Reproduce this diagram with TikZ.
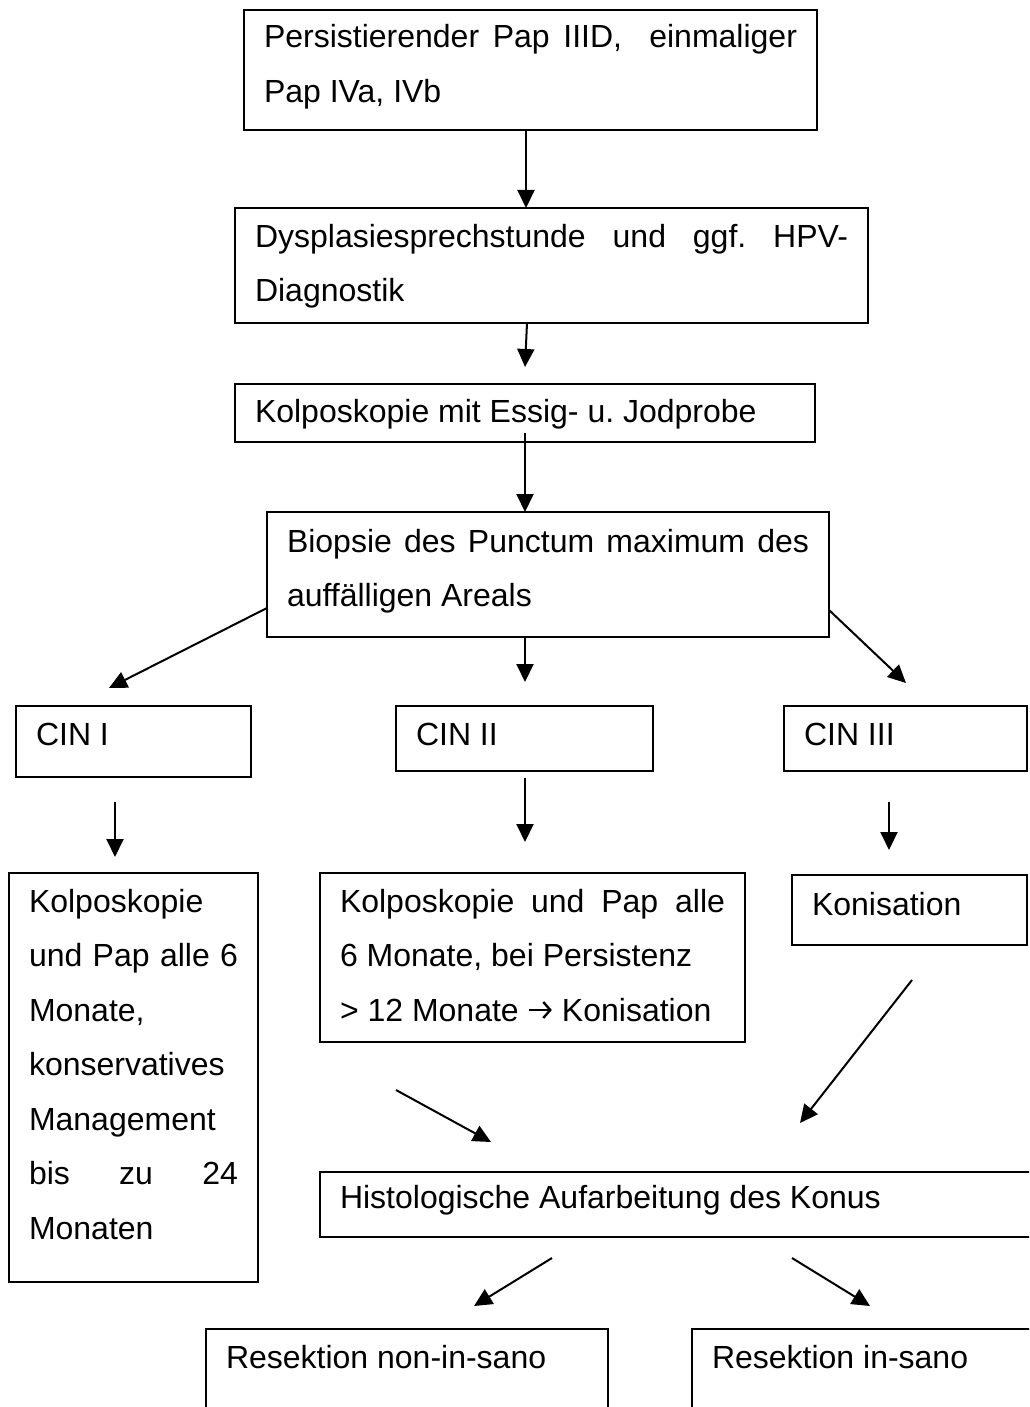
\documentclass[tikz,border=0pt]{standalone}
\usepackage{fontspec}
\setmainfont{Liberation Sans}
\usetikzlibrary{arrows.meta}
\frenchspacing
\newcommand\bxtext[4]{\parbox[c][#1pt][t]{#2pt}{\fontsize{32}{54.5}\selectfont\frenchspacing\hyphenpenalty=10000\rule{0pt}{#3pt}#4}}
\newcommand\wdarrow{\tikz[baseline=0pt]{\draw[line width=2.4pt,-{Straight Barb[length=7pt,width=16pt,line width=2.4pt]}] (0pt,11pt) -- (23pt,11pt);}}
\tikzset{
  bx/.style={draw, line width=1.8pt, anchor=north west, inner xsep=20pt, inner ysep=0pt, outer sep=0pt},
  arr/.style={line width=2pt, -{Triangle[length=18pt,width=17pt]}}
}
\newcommand\boxnode[7]{% name, x, y, W, H, baseline offset, text
  \pgfmathsetmacro\tw{#4-40}%
  \node[bx, minimum width=#4pt, minimum height=#5pt] (#1) at (#2,#3) {\bxtext{#5}{\tw}{#6}{#7}};}
\begin{document}
\begin{tikzpicture}[x=1pt,y=-1pt]
\useasboundingbox (0,0) rectangle (1029,1407);
\clip (0,0) rectangle (1029,1407);
\fill[white] (0,0) rectangle (1029,1407);

\boxnode{b1}{244}{10}{573}{120}{38}{Persistierender Pap IIID,~ einmaliger\linebreak Pap IVa, IVb}
\boxnode{b2}{235}{208}{633}{115}{39}{Dysplasiesprechstunde und ggf. HPV-\linebreak Diagnostik}
\boxnode{b3}{235}{384}{580}{58}{38}{Kolposkopie mit Essig- u. Jodprobe}
\boxnode{b4}{267}{512}{562}{125}{40}{Biopsie des Punctum maximum des\linebreak auff\"alligen Areals}
\boxnode{c1}{16}{706}{235}{71}{39}{CIN I}
\boxnode{c2}{396}{706}{257}{65}{39}{CIN II}
\boxnode{c3}{784}{706}{243}{65}{39}{CIN III}
\boxnode{k1}{9}{873}{249}{409}{39}{Kolposkopie\\ und Pap alle 6\linebreak Monate,\\ konservatives\\ Management\\ bis zu 24\linebreak Monaten}
\boxnode{k2}{320}{873}{425}{169}{39}{Kolposkopie und Pap alle\linebreak 6 Monate, bei Persistenz\\ > 12 Monate \wdarrow{} Konisation}
\boxnode{k3}{792}{875}{235}{70}{40}{Konisation}
\boxnode{h}{320}{1172}{730}{65}{36}{Histologische Aufarbeitung des Konus}
\boxnode{r1}{206}{1329}{402}{120}{39}{Resektion non-in-sano}
\boxnode{r2}{692}{1329}{360}{120}{39}{Resektion in-sano}

% connector end points
\coordinate (a1s) at (526,130);  \coordinate (a1e) at (526,208);
\coordinate (a2s) at (527,323);  \coordinate (a2e) at (525,367);
\coordinate (a3s) at (525,433);  \coordinate (a3e) at (525,512);
\coordinate (a4s) at (267,608);  \coordinate (a4e) at (109,688);
\coordinate (a5s) at (525,636);  \coordinate (a5e) at (525,682);
\coordinate (a6s) at (829,610);  \coordinate (a6e) at (906,683);
\coordinate (a7s) at (115,802);  \coordinate (a7e) at (115,857);
\coordinate (a8s) at (525,778);  \coordinate (a8e) at (525,842);
\coordinate (a9s) at (889,802);  \coordinate (a9e) at (889,850);
\coordinate (a10s) at (396,1090); \coordinate (a10e) at (491,1142);
\coordinate (a11s) at (912,980);  \coordinate (a11e) at (800,1123);
\coordinate (a12s) at (552,1258); \coordinate (a12e) at (474,1306);
\coordinate (a13s) at (792,1258); \coordinate (a13e) at (870,1306);

\draw[arr] (a1s) -- (a1e);
\draw[arr] (a2s) -- (a2e);
\draw[arr] (a3s) -- (a3e);
\draw[arr] (a4s) -- (a4e);
\draw[arr] (a5s) -- (a5e);
\draw[arr] (a6s) -- (a6e);
\draw[arr] (a7s) -- (a7e);
\draw[arr] (a8s) -- (a8e);
\draw[arr] (a9s) -- (a9e);
\draw[arr] (a10s) -- (a10e);
\draw[arr] (a11s) -- (a11e);
\draw[arr] (a12s) -- (a12e);
\draw[arr] (a13s) -- (a13e);
\end{tikzpicture}
\end{document}
